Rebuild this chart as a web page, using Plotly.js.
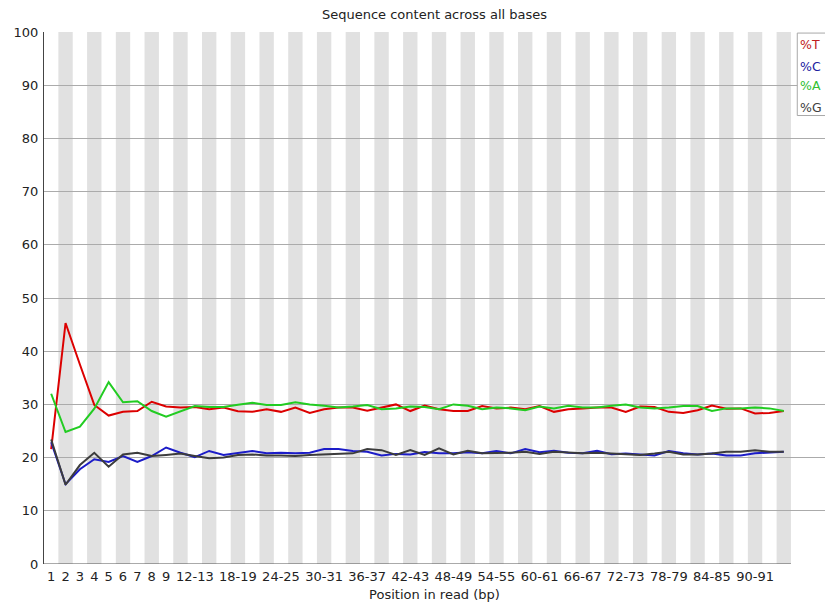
<!DOCTYPE html>
<html>
<head>
<meta charset="utf-8">
<script src="https://cdn.plot.ly/plotly-3.0.1.min.js"></script>
<style>html,body{margin:0;padding:0;background:#fff;}#chart{width:825px;height:602px;}</style>
</head>
<body>
<div id="chart"></div>
<script>
// Position categories (1..9 single bases, then pairs)
const positions = ['1','2','3','4','5','6','7','8','9',
  '10-11','12-13','14-15','16-17','18-19','20-21','22-23','24-25','26-27','28-29',
  '30-31','32-33','34-35','36-37','38-39','40-41','42-43','44-45','46-47','48-49',
  '50-51','52-53','54-55','56-57','58-59','60-61','62-63','64-65','66-67','68-69',
  '70-71','72-73','74-75','76-77','78-79','80-81','82-83','84-85','86-87','88-89',
  '90-91','92-93','94-95'];

const shownTicks = ['1','2','3','4','5','6','7','8','9','12-13','18-19','24-25','30-31',
  '36-37','42-43','48-49','54-55','60-61','66-67','72-73','78-79','84-85','90-91'];

const pctT = [21.6,45.3,37.5,29.9,27.9,28.6,28.75,30.5,29.6,29.4,29.5,29.1,29.4,28.7,
  28.6,29.1,28.6,29.4,28.4,29.1,29.4,29.4,28.8,29.4,30.0,28.75,29.8,29.1,28.75,28.75,
  29.7,29.25,29.4,29.1,29.7,28.6,29.1,29.25,29.4,29.4,28.6,29.6,29.5,28.6,28.4,28.9,
  29.8,29.2,29.25,28.3,28.4,28.75];

const pctC = [22.9,15.0,17.8,19.7,19.2,20.3,19.2,20.3,21.9,20.9,20.1,21.25,20.5,20.85,
  21.25,20.8,20.9,20.8,20.9,21.6,21.6,21.25,21.1,20.4,20.7,20.6,21.05,20.8,20.8,21.0,
  20.8,21.25,20.8,21.6,21.0,21.3,20.9,20.8,21.3,20.65,20.75,20.6,20.4,21.25,20.8,20.6,
  20.75,20.4,20.4,20.8,20.9,21.1];

const pctA = [32.0,24.8,25.8,29.2,34.2,30.4,30.6,28.75,27.7,28.75,29.7,29.5,29.5,29.95,
  30.3,29.9,29.9,30.4,30.0,29.75,29.4,29.6,29.9,29.1,29.25,29.6,29.5,29.1,30.0,29.75,
  29.1,29.4,29.25,28.9,29.6,29.25,29.75,29.4,29.4,29.75,30.0,29.4,29.25,29.4,29.7,29.7,
  28.75,29.25,29.25,29.4,29.25,28.75];

const pctG = [23.4,14.9,18.6,20.9,18.3,20.6,20.9,20.3,20.5,20.75,20.3,19.9,20.0,20.5,
  20.6,20.4,20.4,20.3,20.5,20.6,20.8,20.8,21.6,21.4,20.5,21.4,20.5,21.75,20.6,21.3,
  20.8,20.8,20.9,21.1,20.7,21.1,21.0,20.8,20.9,20.8,20.6,20.5,20.75,21.1,20.6,20.6,
  20.75,21.1,21.1,21.4,21.1,21.1];

const seriesNames = ['%T','%C','%A','%G'];
const seriesColors = ['#dc0000','#1c1cc8','#22cc22','#3c3c3c'];
const legendColors = ['#c02020','#2020a0','#30c030','#404040'];
const seriesValues = [pctT, pctC, pctA, pctG];

const FONT = 'DejaVu Sans, Verdana, sans-serif';

const traces = seriesValues.map((vals, k) => ({
  type: 'scatter', mode: 'lines', name: seriesNames[k],
  x: positions, y: vals,
  line: {color: seriesColors[k], width: 2},
  showlegend: false, hoverinfo: 'x+y+name'
}));

const shapes = [];
positions.forEach((p, i) => {
  if (i % 2 === 1) {
    shapes.push({type: 'rect', layer: 'below', xref: 'x', yref: 'y',
      x0: i - 0.5, x1: i + 0.5, y0: 0, y1: 100,
      fillcolor: '#e1e1e1', line: {width: 0}});
  }
});
// x-axis baseline spanning only the categories
shapes.push({type: 'line', layer: 'above', xref: 'x', yref: 'y',
  x0: -0.5, x1: positions.length - 0.5, y0: 0, y1: 0,
  line: {color: '#555', width: 1}});
// legend box
shapes.push({type: 'rect', layer: 'above', xref: 'paper', yref: 'paper',
  x0: 0.9645, x1: 1.05, y0: 0.843, y1: 0.998,
  fillcolor: '#ffffff', line: {color: '#a8a8a8', width: 1}});

const legendY = [0.9756, 0.936, 0.8985, 0.859];
const annotations = seriesNames.map((n, k) => ({
  xref: 'paper', yref: 'paper', x: 0.966, y: legendY[k],
  xanchor: 'left', yanchor: 'middle', showarrow: false,
  text: n, font: {family: FONT, size: 12.5, color: legendColors[k]}
}));

const layout = {
  width: 825, height: 602,
  margin: {l: 44, r: 0, t: 32, b: 38, pad: 0},
  paper_bgcolor: '#ffffff', plot_bgcolor: '#ffffff',
  font: {family: FONT, size: 13, color: '#222'},
  title: {text: 'Sequence content across all bases', x: 0.5, xref: 'paper',
    y: 1 - 14/602, yref: 'container', yanchor: 'middle',
    font: {family: FONT, size: 13, color: '#222'}},
  xaxis: {type: 'category', categoryorder: 'array', categoryarray: positions,
    range: [-0.5, 53.87], showgrid: false, zeroline: false, showline: false,
    tickmode: 'array', tickvals: shownTicks, ticktext: shownTicks,
    ticks: '', ticklabelstandoff: 3, tickfont: {family: FONT, size: 13, color: '#222'},
    title: {text: 'Position in read (bp)', standoff: 6,
      font: {family: FONT, size: 13, color: '#222'}},
    fixedrange: true},
  yaxis: {range: [0, 100], tickmode: 'linear', tick0: 0, dtick: 10,
    showgrid: true, gridcolor: '#ababab', gridwidth: 1,
    zeroline: false, showline: true, linecolor: '#444', linewidth: 1,
    ticks: '', ticklabelstandoff: 2, tickfont: {family: FONT, size: 13, color: '#222'},
    fixedrange: true},
  shapes: shapes,
  annotations: annotations,
  showlegend: false
};

Plotly.newPlot('chart', traces, layout, {displayModeBar: false, staticPlot: true});
</script>
</body>
</html>
